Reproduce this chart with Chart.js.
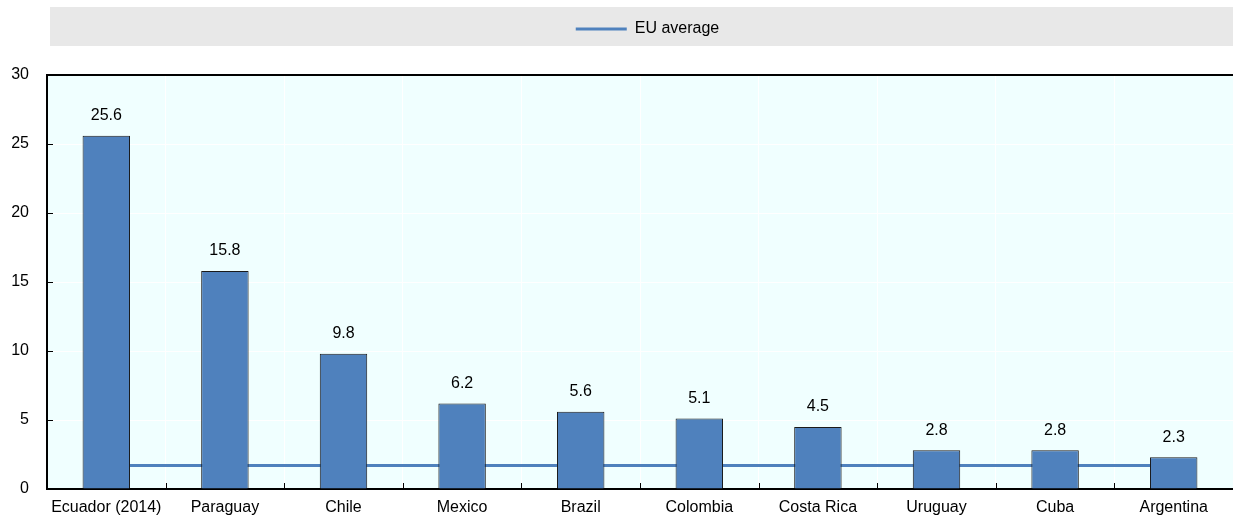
<!DOCTYPE html>
<html>
<head>
<meta charset="utf-8">
<title>EU average comparison</title>
<script src="https://cdn.jsdelivr.net/npm/chart.js@4/dist/chart.umd.min.js"></script>
<style>
  html, body { margin: 0; padding: 0; background: #ffffff; }
  #c { display: block; }
</style>
</head>
<body>
<canvas id="c" width="1233" height="517"></canvas>
<script>
// Countries, their values and the EU reference level
const categories = ['Ecuador (2014)', 'Paraguay', 'Chile', 'Mexico', 'Brazil', 'Colombia', 'Costa Rica', 'Uruguay', 'Cuba', 'Argentina'];
const countryValues = [25.6, 15.8, 9.8, 6.2, 5.6, 5.1, 4.5, 2.8, 2.8, 2.3];
const euAverage = [1.7, 1.7, 1.7, 1.7, 1.7, 1.7, 1.7, 1.7, 1.7, 1.7];
const yTicks = [0, 5, 10, 15, 20, 25, 30];
const legendLabel = 'EU average';

const BLUE = '#4F81BD';
const PLOT_BG = '#F0FFFF';
const LEGEND_BG = '#E8E8E8';
const FONT_FAMILY = '"Liberation Sans", Arial, Helvetica, sans-serif';
const FONT_SIZE = 16;

Chart.defaults.font.family = FONT_FAMILY;
Chart.defaults.font.size = FONT_SIZE;
Chart.defaults.color = '#000000';

// Extra room between the legend strip and the plot
const legendSpacing = {
  id: 'legendSpacing',
  beforeInit(chart) {
    const lg = chart.legend;
    const fit = lg.fit;
    lg.fit = function () {
      fit.call(this);
      this.height = 68;
    };
  },
  afterLayout(chart) {
    // centre the legend over the grey strip rather than the full canvas
    chart.legend.left = 62;
    chart.legend.right = chart.width;
  }
};

// Grey legend strip and pale plot background
const backgrounds = {
  id: 'backgrounds',
  beforeDraw(chart) {
    const { ctx, chartArea: a } = chart;
    const lg = chart.legend;
    ctx.save();
    ctx.fillStyle = LEGEND_BG;
    ctx.fillRect(50, lg.top, chart.width - 50, 39);
    ctx.fillStyle = PLOT_BG;
    ctx.fillRect(a.left, a.top, a.right - a.left, a.bottom - a.top);
    ctx.restore();
  }
};

// Short tick marks pointing into the plot
const innerTicks = {
  id: 'innerTicks',
  afterDatasetsDraw(chart) {
    const { ctx, chartArea: a, scales: { x, y } } = chart;
    ctx.save();
    ctx.strokeStyle = '#000000';
    ctx.lineWidth = 1;
    ctx.beginPath();
    for (let i = 1; i < categories.length; i++) {
      const px = Math.round((x.getPixelForValue(i - 1) + x.getPixelForValue(i)) / 2) + 0.5;
      ctx.moveTo(px, a.bottom);
      ctx.lineTo(px, a.bottom - 6);
    }
    yTicks.forEach(v => {
      if (v === yTicks[0] || v === yTicks[yTicks.length - 1]) return;
      const py = Math.round(y.getPixelForValue(v)) + 0.5;
      ctx.moveTo(a.left, py);
      ctx.lineTo(a.left + 6, py);
    });
    ctx.stroke();
    ctx.restore();
  }
};

// Value labels above each bar
const barLabels = {
  id: 'barLabels',
  afterDatasetsDraw(chart) {
    const { ctx } = chart;
    const meta = chart.getDatasetMeta(0);
    ctx.save();
    ctx.font = FONT_SIZE + 'px ' + FONT_FAMILY;
    ctx.fillStyle = '#000000';
    ctx.textAlign = 'center';
    ctx.textBaseline = 'middle';
    meta.data.forEach((bar, i) => {
      ctx.fillText(countryValues[i].toFixed(1), bar.x, bar.y - 20);
    });
    ctx.restore();
  }
};

new Chart(document.getElementById('c'), {
  data: {
    labels: categories,
    datasets: [
      {
        type: 'bar',
        label: 'Value',
        data: countryValues,
        backgroundColor: BLUE,
        borderColor: '#1A1A1A',
        borderWidth: 1,
        categoryPercentage: 1,
        barPercentage: 0.4,
        order: 0
      },
      {
        type: 'line',
        label: legendLabel,
        data: euAverage,
        borderColor: BLUE,
        backgroundColor: BLUE,
        borderWidth: 3,
        pointRadius: 0,
        fill: false,
        order: 1
      }
    ]
  },
  options: {
    responsive: false,
    animation: false,
    layout: { padding: { top: 7, left: 0, right: 0, bottom: 0 } },
    plugins: {
      tooltip: { enabled: false },
      legend: {
        position: 'top',
        align: 'center',
        labels: {
          padding: 14,
          boxWidth: 51,
          boxHeight: 3,
          color: '#000000',
          font: { size: FONT_SIZE },
          generateLabels: () => [{
            text: legendLabel,
            fillStyle: BLUE,
            strokeStyle: BLUE,
            lineWidth: 0,
            hidden: false,
            datasetIndex: 1
          }]
        }
      }
    },
    scales: {
      x: {
        offset: true,
        grid: {
          offset: true,
          drawTicks: false,
          color: '#FFFFFF',
          lineWidth: 1
        },
        border: { display: true, color: '#000000', width: 2 },
        ticks: { padding: 9, maxRotation: 0, autoSkip: false, color: '#000000', font: { size: FONT_SIZE } },
        afterFit: s => { s.height = 28; }
      },
      y: {
        min: yTicks[0],
        max: yTicks[yTicks.length - 1],
        afterBuildTicks: s => { s.ticks = yTicks.map(v => ({ value: v })); },
        grid: {
          drawTicks: false,
          color: c => c.tick.value === yTicks[yTicks.length - 1] ? '#000000' : (c.tick.value === yTicks[0] ? 'rgba(0,0,0,0)' : '#FFFFFF'),
          lineWidth: c => c.tick.value === yTicks[yTicks.length - 1] ? 2 : 1
        },
        border: { display: true, color: '#000000', width: 2 },
        ticks: { padding: 18, color: '#000000', font: { size: FONT_SIZE } },
        afterFit: s => { s.width = 47; }
      }
    }
  },
  plugins: [legendSpacing, backgrounds, innerTicks, barLabels]
});
</script>
</body>
</html>
